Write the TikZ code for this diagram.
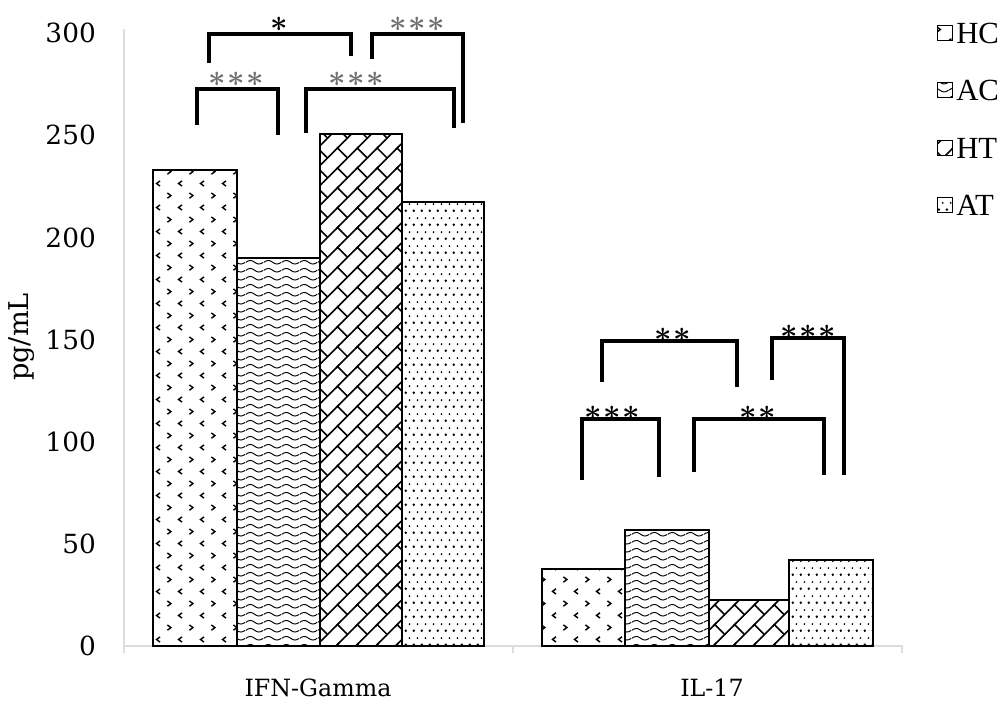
\documentclass[tikz,border=0pt]{standalone}
\usepackage{bm}
\usepackage{fontspec}
\setmainfont{DejaVu Serif}
\newfontfamily\legendfont{Liberation Serif}
\usepackage{tikz}
\usetikzlibrary{patterns.meta, positioning}

\definecolor{axisgray}{HTML}{D9DDDD}
\definecolor{stargray}{HTML}{707070}

% fill patterns of the four groups
\tikzdeclarepattern{name=hcmarks, type=uncolored,
  bounding box={(0pt,0pt) and (12.5pt,13.6pt)}, tile size={(12.5pt,13.6pt)},
  code={
    \draw[line width=0.8pt] (4pt,11.5pt) -- (2pt,10pt) -- (4pt,8.5pt);
    \draw[line width=0.8pt] (8.2pt,4.6pt) -- (10.2pt,3.1pt) -- (8.2pt,1.6pt);
  }}
\tikzdeclarepattern{name=acwaves, type=uncolored,
  bounding box={(0pt,0pt) and (10pt,4.4pt)}, tile size={(10pt,4.4pt)},
  code={
    \draw[line width=0.55pt] (0pt,2.2pt) .. controls (1.7pt,3.6pt) and (3.3pt,3.6pt) .. (5pt,2.2pt)
      .. controls (6.7pt,0.8pt) and (8.3pt,0.8pt) .. (10pt,2.2pt);
  }}
\tikzdeclarepattern{name=htbricks, type=uncolored,
  bounding box={(-1pt,-1pt) and (12.3pt,12.3pt)}, tile size={(11.3pt,11.3pt)},
  code={
    \draw[line width=0.9pt] (-1pt,-1pt) -- (12.3pt,12.3pt);
    \draw[line width=0.9pt] (5.65pt,5.65pt) -- (0pt,11.3pt);
  }}
\tikzdeclarepattern{name=atdots, type=uncolored,
  bounding box={(0pt,0pt) and (4.6pt,8pt)}, tile size={(4.6pt,8pt)},
  code={
    \fill (1.15pt,2pt) circle (0.85pt);
    \fill (3.45pt,6pt) circle (0.6pt);
  }}

\newcommand\sigone{${\bm{\ast}}$}
\newcommand\sigtwo{${\bm{\ast}}\kern0.8pt{\bm{\ast}}$}
\newcommand\sigthree{${\bm{\ast}}\kern0.8pt{\bm{\ast}}\kern0.8pt{\bm{\ast}}$}

\begin{document}
\begin{tikzpicture}[x=0.02cm, y=-0.02cm,
        bar/.style={draw=black, line width=0.9pt},
        bracket/.style={draw=black, line width=2pt},
        axisline/.style={draw=axisgray, line width=1.4pt},
        stars/.style={font=\fontsize{19}{21}\selectfont, inner sep=0pt},
        legbox/.style={draw=black, line width=0.9pt, minimum size=8.5pt, inner sep=0pt},
        legtext/.style={font=\legendfont\fontsize{17.5}{20}\selectfont, inner sep=1.5pt},
        ticklabel/.style={font=\fontsize{15}{18}\selectfont, anchor=east},
        node distance=0pt]
        \tikzstyle{every node}=[font=\fontsize{13.5}{16}\selectfont]
            \useasboundingbox (0,0) rectangle (1000,704);

            % axes
            \draw[axisline] (124,29) -- (124,653);
            \draw[axisline] (124,646) -- (902,646) -- (902,653);
            \draw[axisline] (513,646) -- (513,653);
            \foreach \v in {0,50,...,300}
              \node[ticklabel] (tick\v) at (102,{646-2.043*\v}) {\v};
            \node[rotate=90, font=\fontsize{15.5}{18}\selectfont] (ylabel) at (22,337) {pg/mL};
            \node (ifn) at (318,688) {IFN-Gamma};
            \node (il) at (712,688) {IL-17};

            % IFN-Gamma bars
            \draw[bar, pattern=hcmarks] (153,646) rectangle (237,170);
            \draw[bar, pattern=acwaves] (237,646) rectangle (320,258);
            \draw[bar, pattern=htbricks] (320,646) rectangle (402,134);
            \draw[bar, pattern=atdots] (402,646) rectangle (484,202);

            % IL-17 bars
            \draw[bar, pattern=hcmarks] (542,646) rectangle (625,569);
            \draw[bar, pattern=acwaves] (625,646) rectangle (709,530);
            \draw[bar, pattern=htbricks] (709,646) rectangle (789,600);
            \draw[bar, pattern=atdots] (789,646) rectangle (873,560);

            % significance brackets, IFN-Gamma
            \draw[bracket] (197,125) |- (278,89) -- (278,135);
            \node[stars, stargray] (s1) at (236,79) {\sigthree};
            \draw[bracket] (306,133) |- (454,89) -- (454,128);
            \node[stars, stargray] (s2) at (356,79) {\sigthree};
            \draw[bracket] (209,63) |- (351,34) -- (351,56);
            \node[stars] (s3) at (279,24) {\sigone};
            \draw[bracket] (372,59) |- (463,34) -- (463,123);
            \node[stars, stargray] (s4) at (417,24) {\sigthree};

            % significance brackets, IL-17
            \draw[bracket] (582,480) |- (659,419) -- (659,477);
            \node[stars] (s5) at (612,413) {\sigthree};
            \draw[bracket] (694,472) |- (824,419) -- (824,475);
            \node[stars] (s6) at (758,413) {\sigtwo};
            \draw[bracket] (602,382) |- (737,341) -- (737,387);
            \node[stars] (s7) at (673,335) {\sigtwo};
            \draw[bracket] (772,380) |- (844,338) -- (844,475);
            \node[stars] (s8) at (808,332) {\sigthree};

            % legend
            \node[legbox, pattern=hcmarks] (kHC) at (945,33) {};
            \node[legtext, right = of kHC] (tHC) {HC};
            \node[legbox, pattern=acwaves] (kAC) at (945,90) {};
            \node[legtext, right = of kAC] (tAC) {AC};
            \node[legbox, pattern=htbricks] (kHT) at (945,148) {};
            \node[legtext, right = of kHT] (tHT) {HT};
            \node[legbox, pattern=atdots] (kAT) at (945,205) {};
            \node[legtext, right = of kAT] (tAT) {AT};
        \end{tikzpicture}
\end{document}
